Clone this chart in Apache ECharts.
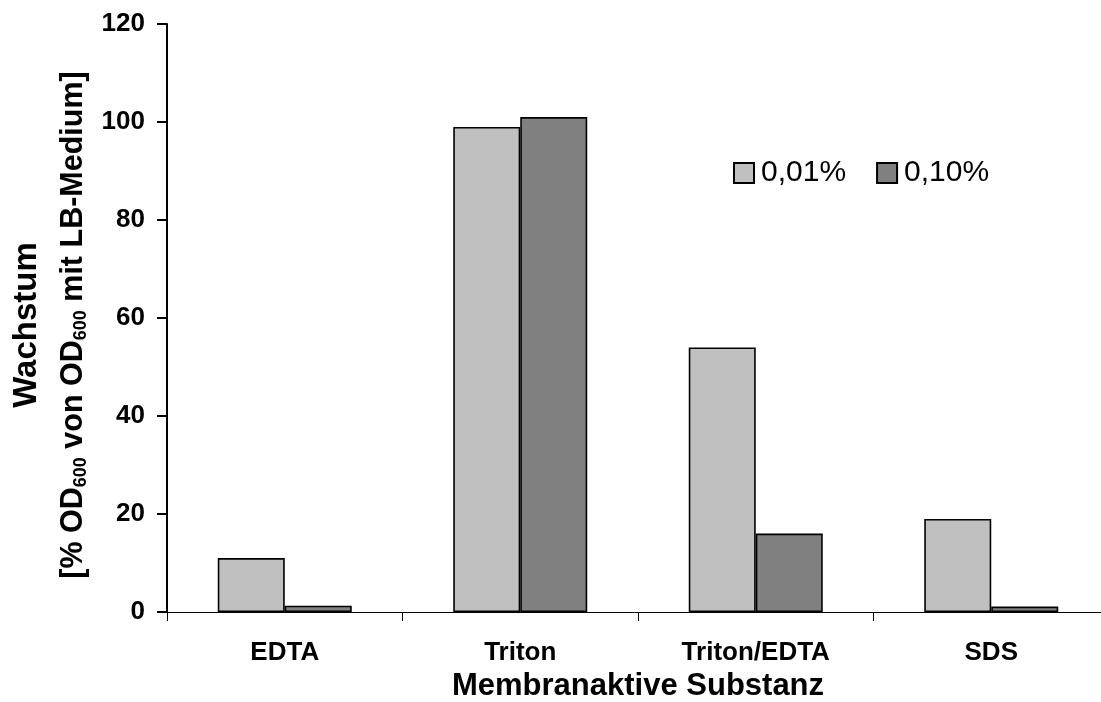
<!DOCTYPE html>
<html>
<head>
<meta charset="utf-8">
<title>Wachstum</title>
<script src="https://cdn.jsdelivr.net/npm/echarts@6/dist/echarts.min.js"></script>
<style>
  html, body { margin: 0; padding: 0; background: #ffffff; }
  #chart { width: 1101px; height: 702px; }
</style>
</head>
<body>
<div id="chart"></div>
<script>
// Substances tested
var categories = ['EDTA', 'Triton', 'Triton/EDTA', 'SDS'];
// Concentration series names
var seriesNames = ['0,01%', '0,10%'];
// Growth in % of OD600 relative to LB medium
var values001 = [11, 99, 54, 19];
var values010 = [1.3, 101, 16, 1.1];
// Value axis ticks
var yMin = 0, yMax = 120, yStep = 20;

var FONT = "'Liberation Sans', Arial, sans-serif";

var chart = echarts.init(document.getElementById('chart'), null, { renderer: 'canvas' });

chart.setOption({
  backgroundColor: '#ffffff',
  animation: false,
  textStyle: { fontFamily: FONT, color: '#000' },
  grid: {
    left: 167, top: 24, width: 942, height: 588,
    containLabel: false,
    outerBoundsMode: 'none'
  },
  legend: {
    data: seriesNames,
    left: 733,
    top: 158,
    padding: 0,
    itemWidth: 20,
    itemHeight: 20,
    itemGap: 30,
    icon: 'rect',
    textStyle: { fontFamily: FONT, fontSize: 30, color: '#000', padding: [0, 0, 0, 2] }
  },
  xAxis: {
    type: 'category',
    data: categories,
    name: 'Membranaktive Substanz',
    nameLocation: 'middle',
    nameGap: 57,
    nameTextStyle: { fontFamily: FONT, fontSize: 31, fontWeight: 'bold', color: '#000' },
    axisLine: { show: true, lineStyle: { color: '#000', width: 1 } },
    axisTick: { show: true, length: 9, lineStyle: { color: '#000', width: 1 } },
    axisLabel: { fontFamily: FONT, fontSize: 26, fontWeight: 'bold', color: '#000', margin: 28 },
    splitLine: { show: false }
  },
  yAxis: {
    type: 'value',
    min: yMin,
    max: yMax,
    interval: yStep,
    axisLine: { show: true, lineStyle: { color: '#000', width: 2 } },
    axisTick: { show: true, length: 10, lineStyle: { color: '#000', width: 2 } },
    axisLabel: { fontFamily: FONT, fontSize: 26, fontWeight: 'bold', color: '#000', margin: 22 },
    splitLine: { show: false }
  },
  series: [
    {
      name: seriesNames[0],
      type: 'bar',
      data: values001,
      barWidth: 67,
      barGap: '0%',
      itemStyle: { color: '#c0c0c0', borderColor: '#000', borderWidth: 1.6 }
    },
    {
      name: seriesNames[1],
      type: 'bar',
      data: values010,
      barWidth: 67,
      barGap: '0%',
      itemStyle: { color: '#808080', borderColor: '#000', borderWidth: 1.6 }
    }
  ],
  graphic: [
    {
      type: 'text',
      x: 50,
      y: 325,
      rotation: Math.PI / 2,
      style: {
        text: '{t|Wachstum}\n{b|[% OD}{s|600}{b| von OD}{s|600}{b| mit LB-Medium]}',
        align: 'center',
        verticalAlign: 'middle',
        fill: '#000',
        rich: {
          t: { fontFamily: FONT, fontSize: 33, fontWeight: 'bold', lineHeight: 47, fill: '#000' },
          b: { fontFamily: FONT, fontSize: 30.5, fontWeight: 'bold', lineHeight: 47, fill: '#000' },
          s: { fontFamily: FONT, fontSize: 18, fontWeight: 'bold', lineHeight: 47, padding: [16, 0, 0, 0], fill: '#000' }
        }
      }
    }
  ]
});
</script>
</body>
</html>
